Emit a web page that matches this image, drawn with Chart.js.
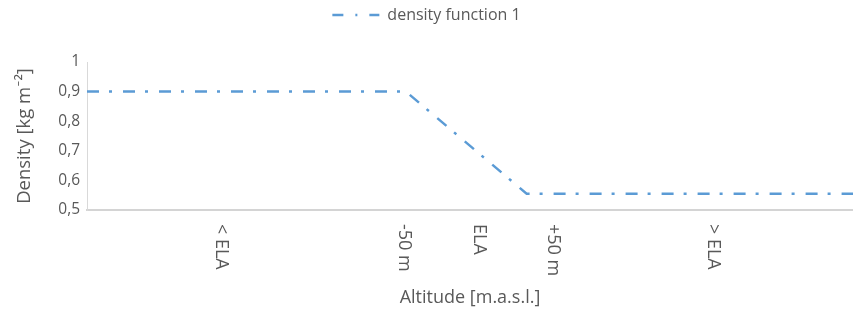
<!DOCTYPE html>
<html>
<head>
<meta charset="utf-8">
<script src="https://cdn.jsdelivr.net/npm/chart.js@4/dist/chart.umd.min.js"></script>
<style>
  html, body { margin: 0; padding: 0; background: #fff; }
  #wrap { width: 853px; height: 319px; }
</style>
</head>
<body>
<div id="wrap"><canvas id="grafico"></canvas></div>
<script>
// altitude relative to ELA (m)
const altitudes = [-263, -49, 32, 251];
const densities = [0.9, 0.9, 0.555, 0.555];

// x tick positions (m relative to ELA) and their labels
const tickValues = [-173, -50, 0, 50, 157];
const tickLabels = ['< ELA', '-50 m', 'ELA', '+50 m', '> ELA'];

const yTicks = [0.5, 0.6, 0.7, 0.8, 0.9, 1];

const grey = '#595959';
const blue = '#5b9bd5';
const fontFam = '"Open Sans", Lato, sans-serif';

Chart.defaults.font.family = fontFam;
Chart.defaults.color = grey;

// extra room under the legend
const legendSpace = {
  id: 'legendSpace',
  beforeInit(chart) {
    const fit = chart.legend.fit;
    chart.legend.fit = function () {
      fit.call(this);
      this.height += 29;
    };
  }
};

// vertical x labels, reading top to bottom
const xLabels = {
  id: 'xLabels',
  afterDraw(chart) {
    const ctx = chart.ctx;
    const xs = chart.scales.x;
    ctx.save();
    ctx.font = '18px ' + fontFam;
    ctx.fillStyle = grey;
    ctx.textAlign = 'left';
    ctx.textBaseline = 'middle';
    tickValues.forEach((v, i) => {
      ctx.save();
      ctx.translate(xs.getPixelForValue(v), xs.top + 14);
      ctx.rotate(Math.PI / 2);
      ctx.fillText(tickLabels[i], 0, 0);
      ctx.restore();
    });
    ctx.restore();
  }
};

const data = {
  datasets: [{
    label: 'density function 1',
    data: altitudes.map((a, i) => ({ x: a, y: densities[i] })),
    borderColor: blue,
    backgroundColor: blue,
    borderWidth: 2.5,
    borderDash: [12, 10, 3, 11],
    pointRadius: 0,
    tension: 0,
  }]
};

const options = {
  responsive: true,
  maintainAspectRatio: false,
  animation: false,
  layout: { padding: 0 },
  plugins: {
    legend: {
      position: 'top',
      labels: {
        usePointStyle: true,
        pointStyle: 'line',
        pointStyleWidth: 47,
        padding: 7,
        color: grey,
        font: { size: 16 },
        generateLabels(chart) {
          const items = Chart.defaults.plugins.legend.labels.generateLabels(chart);
          items.forEach(it => { it.lineDash = [11, 12, 2, 12]; it.lineWidth = 2.5; });
          return items;
        }
      }
    },
    tooltip: { enabled: false },
  },
  scales: {
    x: {
      type: 'linear',
      min: -263,
      max: 251,
      grid: { display: false, drawTicks: false },
      border: { display: true, color: '#d4d4d4', width: 2 },
      ticks: { display: false },
      title: {
        display: true,
        text: 'Altitude [m.a.s.l.]',
        color: grey,
        font: { size: 18 },
        padding: { top: 0, bottom: 10 },
      },
      afterFit(scale) { scale.height = 109; },
    },
    y: {
      min: 0.5,
      max: 1,
      grid: { display: false, drawTicks: false },
      border: { display: true, color: '#d9d9d9', width: 1 },
      afterBuildTicks(scale) { scale.ticks = yTicks.map(v => ({ value: v })); },
      ticks: {
        padding: 7,
        color: grey,
        font: { size: 15.5 },
        callback: v => (Math.abs(v - 1) < 1e-9 ? '1' : v.toFixed(1).replace('.', ',')),
      },
      title: {
        display: true,
        text: 'Density [kg m⁻²]',
        color: grey,
        font: { size: 18.5 },
        padding: { top: 14, bottom: 0 },
      },
      afterFit(scale) { scale.width = 87; },
    },
  },
};

const myChart = new Chart(document.getElementById('grafico'), {
  type: 'line',
  data,
  options,
  plugins: [legendSpace, xLabels],
});
</script>
</body>
</html>
